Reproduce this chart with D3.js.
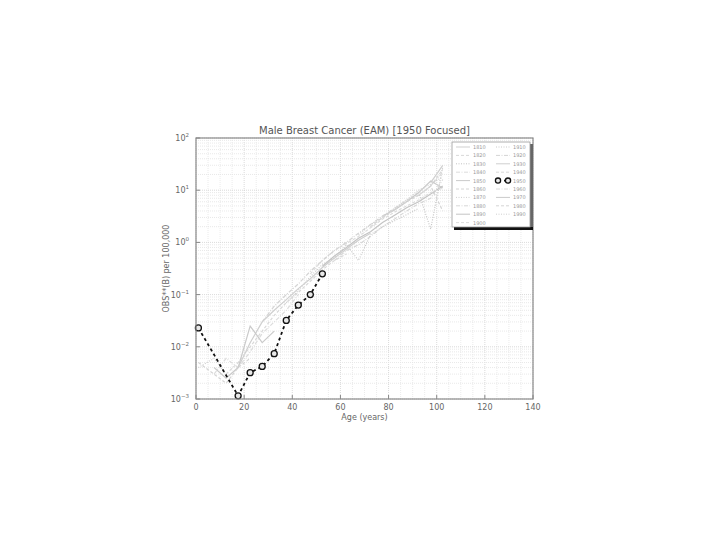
<!DOCTYPE html>
<html><head><meta charset="utf-8">
<script src="https://cdn.jsdelivr.net/npm/d3@7"></script>
<style>body{margin:0;background:#fff;font-family:"DejaVu Sans",sans-serif}</style>
</head><body><svg id="c" width="720" height="540"></svg>
<script>
const n = null;
const ages = [1, 7.5, 12.5, 17.5, 22.5, 27.5, 32.5, 37.5, 42.5, 47.5, 52.5, 57.5, 62.5, 67.5, 72.5, 77.5, 82.5, 87.5, 92.5, 97.5, 102.5];
const cohorts = [1810, 1820, 1830, 1840, 1850, 1860, 1870, 1880, 1890, 1900, 1910, 1920, 1930, 1940, 1950, 1960, 1970, 1980, 1990];
const focus = 1950;
const r1810 = [n,n,n,n,n,n,n,n,n,n,n,n,n,n,n,n,n,n,n,14,30];
const r1820 = [n,n,n,n,n,n,n,n,n,n,n,n,n,n,n,n,n,n,8,12,25];
const r1830 = [n,n,n,n,n,n,n,n,n,n,n,n,n,n,n,n,n,6,9,1.8,28];
const r1840 = [n,n,n,n,n,n,n,n,n,n,n,n,n,n,n,n,4.5,6.5,8,12,22];
const r1850 = [n,n,n,n,n,n,n,n,n,n,n,n,n,n,n,3.2,4.2,6,9,15,11];
const r1860 = [n,n,n,n,n,n,n,n,n,n,n,n,n,n,2.0,3.0,4.2,6.0,8.0,12,4.0];
const r1870 = [n,n,n,n,n,n,n,n,n,n,n,n,n,1.4,2.2,3.0,4.5,6.5,10,13,18];
const r1880 = [n,n,n,n,n,n,n,n,n,n,n,0.45,0.7,0.9,1.3,2.0,2.8,4.0,5.5,7.0,16];
const r1890 = [n,n,n,n,n,n,n,n,n,n,0.35,0.55,0.8,1.2,1.6,2.4,3.3,4.6,6.0,8.5,12];
const r1900 = [n,n,n,n,n,n,n,n,n,0.25,0.45,0.7,0.95,1.3,1.9,2.8,3.8,5.0,6.5,9.0,11];
const r1910 = [n,n,n,n,n,n,n,0.07,0.12,0.22,0.38,0.5,0.9,0.45,1.4,2.0,2.6,3.4,4.5,n,n];
const r1920 = [n,n,n,n,n,0.03,0.06,0.1,0.16,0.28,0.45,0.7,1.0,1.5,2.2,3.2,4.5,n,n,n,n];
const r1930 = [n,n,n,0.004,0.012,0.03,0.05,0.08,0.13,0.2,0.33,0.5,0.75,1.1,1.5,n,n,n,n,n,n];
const r1940 = [n,n,0.003,0.005,0.01,0.02,0.04,0.07,0.11,0.18,0.3,0.45,0.6,n,n,n,n,n,n,n,n];
const r1950 = [0.023,n,n,0.00115,0.0032,0.0042,0.0074,0.032,0.063,0.10,0.25,n,n,n,n,n,n,n,n,n,n];
const r1960 = [n,0.003,0.006,0.004,0.008,0.018,0.03,0.05,0.1,n,n,n,n,n,n,n,n,n,n,n,n];
const r1970 = [n,0.004,0.0025,0.004,0.025,0.012,0.02,n,n,n,n,n,n,n,n,n,n,n,n,n,n];
const r1980 = [0.005,0.003,0.002,0.004,0.006,n,n,n,n,n,n,n,n,n,n,n,n,n,n,n,n];
const r1990 = [0.004,0.006,0.003,n,n,n,n,n,n,n,n,n,n,n,n,n,n,n,n,n,n];
const rates = [r1810,r1820,r1830,r1840,r1850,r1860,r1870,r1880,r1890,r1900,r1910,r1920,r1930,r1940,r1950,r1960,r1970,r1980,r1990];
const xTicks = [0, 20, 40, 60, 80, 100, 120, 140];
const yExps = [-3, -2, -1, 0, 1, 2];
const title = "Male Breast Cancer (EAM) [1950 Focused]";
const xLabel = "Age (years)";
const yLabel = "OBS**(B) per 100,000";

const svg = d3.select("#c");
const L = 196, R = 533, T = 138, B = 399;
const x = d3.scaleLinear().domain([0, 140]).range([L, R]);
const y = d3.scaleLog().domain([1e-3, 1e2]).range([B, T]);

// grid
const g = svg.append("g");
const minorX = d3.range(0, 141, 5);
g.selectAll(".vx").data(minorX).join("line")
  .attr("x1", d => x(d)).attr("x2", d => x(d)).attr("y1", T).attr("y2", B)
  .attr("stroke", d => d % 20 === 0 ? "#d0d0d0" : "#e6e6e6").attr("stroke-width", 0.8)
  .attr("stroke-dasharray", "1,1");
const minorY = [];
for (let e = -3; e < 2; e++) for (let k = 1; k < 10; k++) minorY.push(k * Math.pow(10, e));
minorY.push(100);
g.selectAll(".hy").data(minorY).join("line")
  .attr("x1", L).attr("x2", R).attr("y1", d => y(d)).attr("y2", d => y(d))
  .attr("stroke", d => Math.abs(Math.log10(d) - Math.round(Math.log10(d))) < 1e-9 ? "#d0d0d0" : "#e3e3e3")
  .attr("stroke-width", 0.8).attr("stroke-dasharray", "1,1");

// styles
const greys = ["#cfcfcf", "#d8d8d8", "#c4c4c4", "#dcdcdc", "#cacaca", "#d4d4d4"];
const dashes = [null, "3,2", "1,1.5", "4,1.5,1,1.5"];
const line = d3.line().defined(d => d[1] !== null).x(d => x(d[0])).y(d => y(d[1]));
const seriesData = cohorts.map((c, i) => ({
  c, i, pts: ages.map((a, j) => [a, rates[i][j]]).filter(d => d[1] !== null)
}));

const plot = svg.append("g");
seriesData.filter(s => s.c !== focus).forEach(s => {
  plot.append("path").attr("d", line(s.pts)).attr("fill", "none")
    .attr("stroke", greys[s.i % greys.length]).attr("stroke-width", 1.2)
    .attr("stroke-dasharray", dashes[s.i % dashes.length]);
});
const fs = seriesData.find(s => s.c === focus);
plot.append("path").attr("d", line(fs.pts)).attr("fill", "none")
  .attr("stroke", "#111").attr("stroke-width", 1.8).attr("stroke-dasharray", "3,3");
plot.selectAll(".m").data(fs.pts).join("circle")
  .attr("cx", d => x(d[0])).attr("cy", d => y(d[1])).attr("r", 3)
  .attr("fill", "#e8e8e8").attr("stroke", "#111").attr("stroke-width", 1.3);

// frame
svg.append("rect").attr("x", L).attr("y", T).attr("width", R - L).attr("height", B - T)
  .attr("fill", "none").attr("stroke", "#8a8a8a").attr("stroke-width", 1.2);

// ticks
const ax = svg.append("g").attr("fill", "#666").style("font-size", "8px");
ax.selectAll(".xt").data(xTicks).join("text")
  .attr("x", d => x(d)).attr("y", 410).attr("text-anchor", "middle").text(d => d);
svg.selectAll(".xtk").data(xTicks).join("line")
  .attr("x1", d => x(d)).attr("x2", d => x(d)).attr("y1", B).attr("y2", B - 4)
  .attr("stroke", "#888");
const yt = ax.selectAll(".yt").data(yExps).join("text")
  .attr("x", 189).attr("y", d => y(Math.pow(10, d)) + 3).attr("text-anchor", "end");
yt.append("tspan").text("10");
yt.append("tspan").attr("dy", -4).style("font-size", "5.5px").text(d => d < 0 ? "\u2212" + (-d) : d);
svg.selectAll(".ytk").data(yExps).join("line")
  .attr("x1", L).attr("x2", L + 4).attr("y1", d => y(Math.pow(10, d))).attr("y2", d => y(Math.pow(10, d)))
  .attr("stroke", "#888");

// labels
svg.append("text").attr("x", (L + R) / 2).attr("y", 134).attr("text-anchor", "middle")
  .attr("fill", "#555").style("font-size", "10px").text(title);
svg.append("text").attr("x", (L + R) / 2).attr("y", 420).attr("text-anchor", "middle")
  .attr("fill", "#666").style("font-size", "8px").text(xLabel);
svg.append("text").attr("transform", `translate(169,${(T + B) / 2}) rotate(-90)`)
  .attr("text-anchor", "middle").attr("fill", "#666").style("font-size", "8px").text(yLabel);

// legend
const lg = svg.append("g");
lg.append("rect").attr("x", 454).attr("y", 144).attr("width", 79).attr("height", 86).attr("fill", "#666");
lg.append("rect").attr("x", 454).attr("y", 227).attr("width", 79).attr("height", 3).attr("fill", "#111");
lg.append("rect").attr("x", 452).attr("y", 142).attr("width", 78).attr("height", 85)
  .attr("fill", "#fff").attr("stroke", "#999").attr("stroke-width", 0.8);
seriesData.forEach(s => {
  const col = s.i < 10 ? 0 : 1, row = s.i < 10 ? s.i : s.i - 10;
  const lx = 456 + col * 40, ly = 147 + row * 8.4;
  if (s.c === focus) {
    lg.append("line").attr("x1", lx + 2).attr("x2", lx + 12).attr("y1", ly).attr("y2", ly)
      .attr("stroke", "#111").attr("stroke-width", 1.8).attr("stroke-dasharray", "3,3");
    [lx + 2, lx + 12].forEach(cx => lg.append("circle").attr("cx", cx).attr("cy", ly).attr("r", 2.6)
      .attr("fill", "#e8e8e8").attr("stroke", "#111").attr("stroke-width", 1.3));
  } else {
    lg.append("line").attr("x1", lx).attr("x2", lx + 14).attr("y1", ly).attr("y2", ly)
      .attr("stroke", greys[s.i % greys.length]).attr("stroke-width", 1)
      .attr("stroke-dasharray", dashes[s.i % dashes.length]);
  }
  lg.append("text").attr("x", lx + 17).attr("y", ly + 2).attr("fill", "#999")
    .style("font-size", "5px").text(s.c);
});
</script></body></html>
